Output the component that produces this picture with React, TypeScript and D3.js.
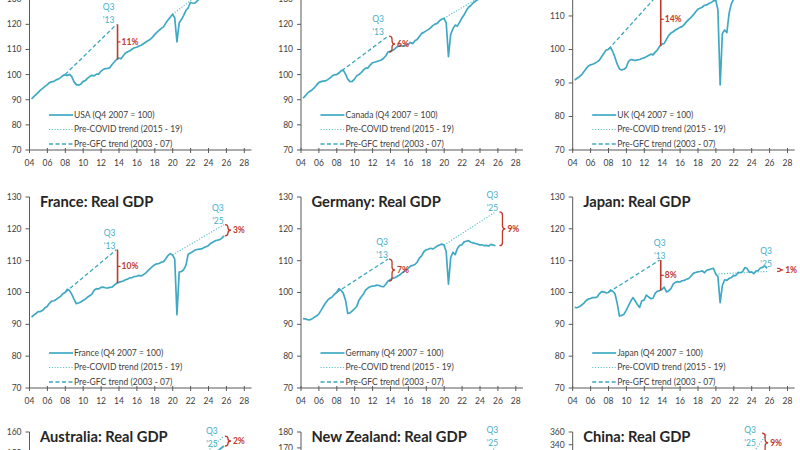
import React from 'react';
import * as d3 from 'd3';

// Quarterly real GDP, Q4 2007 = 100, from 2004Q1 to 2025Q3 (87 quarters)
const START_YEAR = 2004;

const usa = [
  90.3, 91.2, 92.0, 92.9, 93.8, 94.5, 95.3, 95.9, 96.8, 97.1, 97.3, 97.9, 98.2, 98.8, 99.6, 100.0,
  99.6, 100.1, 99.2, 97.1, 96.0, 95.8, 96.2, 97.2, 97.6, 98.5, 99.2, 99.7, 99.5, 100.2, 100.2, 101.3,
  102.0, 102.4, 102.5, 102.7, 104.0, 105.0, 106.0, 106.6, 106.3, 107.5, 108.6, 109.1, 109.5, 110.2, 110.7, 110.9,
  111.4, 111.7, 112.3, 112.9, 113.5, 114.0, 114.8, 115.9, 116.8, 117.6, 118.4, 119.0, 120.5, 121.7, 122.8, 124.0,
  122.6, 113.0, 120.6, 121.9, 123.6, 125.5, 126.5, 128.7, 128.5, 128.4, 129.2, 130.3, 131.0, 131.8, 133.3, 134.5,
  135.0, 136.0, 137.1, 137.9, 137.7, 138.9, 140.3,
];
const canada = [
  90.6, 91.5, 92.6, 93.3, 93.9, 94.7, 95.8, 96.8, 97.2, 97.4, 97.5, 98.0, 98.6, 99.4, 99.9, 100.0,
  100.6, 101.5, 101.8, 100.2, 98.2, 97.2, 97.3, 98.2, 99.5, 100.0, 100.8, 101.8, 102.6, 102.6, 103.8, 104.7,
  104.9, 105.2, 105.5, 105.8, 106.5, 107.5, 109.0, 109.3, 109.6, 110.2, 111.0, 111.6, 111.4, 111.3, 111.7, 112.0,
  112.8, 112.3, 113.5, 114.0, 115.2, 116.4, 116.8, 117.4, 117.9, 118.6, 119.5, 120.1, 120.4, 121.4, 122.0, 122.4,
  120.6, 107.1, 116.0, 118.2, 119.7, 119.3, 120.9, 122.5, 123.8, 125.5, 126.8, 127.5, 128.5, 129.2, 129.8, 130.2,
  130.8, 131.5, 132.2, 133.0, 133.5, 133.2, 134.0,
];
const uk = [
  90.9, 91.4, 91.8, 92.4, 93.3, 94.2, 95.0, 95.4, 95.6, 95.9, 96.3, 96.8, 97.8, 98.8, 99.8, 100.0,
  100.6, 99.4, 97.6, 95.6, 94.2, 93.9, 94.1, 94.6, 96.4, 97.0, 96.9, 96.7, 96.9, 97.0, 97.3, 97.5,
  97.8, 98.2, 98.6, 98.4, 99.2, 99.9, 101.0, 101.6, 101.8, 103.0, 104.2, 104.9, 105.3, 105.8, 106.2, 106.6,
  106.8, 107.5, 108.3, 109.0, 109.6, 110.3, 111.2, 112.0, 112.3, 112.6, 113.2, 113.3, 113.7, 114.0, 114.5, 114.8,
  111.8, 89.4, 104.8, 105.8, 105.0, 110.8, 113.6, 115.0, 115.6, 115.8, 115.9, 116.0, 116.2, 116.3, 116.3, 116.0,
  116.8, 117.4, 117.5, 117.6, 118.5, 118.8, 118.9,
];
const france = [
  92.3, 92.9, 93.4, 94.0, 94.0, 94.4, 95.2, 95.6, 96.6, 97.3, 97.4, 97.8, 98.3, 98.8, 99.6, 100.0,
  101.0, 100.6, 99.4, 97.9, 96.5, 96.7, 97.0, 97.5, 97.9, 98.5, 99.0, 99.5, 100.7, 101.2, 101.1, 101.6,
  101.7, 101.5, 101.4, 101.6, 101.7, 102.3, 102.9, 103.2, 103.4, 103.6, 104.0, 104.2, 104.6, 104.7, 105.0, 105.1,
  105.4, 105.2, 105.6, 106.1, 106.8, 107.5, 108.1, 108.7, 109.0, 109.1, 109.5, 109.7, 110.6, 111.6, 112.2, 111.8,
  110.5, 93.0, 106.4, 106.6, 107.2, 108.5, 112.0, 112.4, 112.8, 113.3, 113.5, 113.6, 113.7, 114.1, 114.4, 114.7,
  115.4, 115.8, 116.2, 116.4, 116.6, 117.0, 117.8,
];
const germany = [
  91.8, 91.7, 91.5, 91.4, 91.7, 92.2, 92.6, 93.2, 94.3, 95.5, 96.6, 97.6, 98.2, 98.6, 99.4, 100.0,
  101.2, 100.7, 99.8, 97.6, 93.4, 93.6, 94.2, 94.9, 95.6, 97.6, 98.6, 99.5, 100.8, 101.4, 101.8, 102.0,
  102.1, 102.3, 102.2, 101.9, 101.8, 102.6, 103.6, 104.0, 104.5, 104.6, 105.0, 105.4, 106.0, 106.5, 107.0, 107.6,
  108.3, 108.5, 108.8, 109.5, 110.8, 111.5, 112.8, 113.4, 113.6, 113.9, 113.7, 114.1, 114.6, 114.9, 115.2, 114.9,
  112.8, 102.6, 111.0, 112.6, 111.9, 113.8, 114.8, 115.0, 115.9, 116.1, 116.3, 115.8, 115.6, 115.4, 115.2, 114.9,
  115.0, 114.7, 114.8, 114.6, 115.1, 114.9, 114.7,
];
const japan = [
  95.3, 95.2, 95.5, 96.0, 96.6, 97.4, 97.9, 98.1, 98.4, 98.4, 98.6, 99.6, 100.3, 100.2, 99.9, 100.0,
  100.8, 100.4, 99.6, 96.6, 92.6, 92.8, 93.2, 94.4, 95.8, 97.2, 98.4, 97.4, 96.2, 95.3, 97.4, 97.6,
  99.2, 98.6, 98.1, 98.2, 99.8, 100.4, 100.6, 101.0, 101.7, 100.2, 100.5, 101.2, 102.6, 103.2, 103.4, 103.3,
  103.7, 103.8, 104.2, 104.4, 105.2, 106.0, 106.3, 106.5, 106.6, 106.8, 106.2, 107.0, 107.2, 107.4, 107.6, 105.8,
  105.0, 96.8, 102.2, 104.0, 103.8, 104.4, 104.7, 105.4, 105.3, 106.3, 106.2, 106.5, 107.8, 107.6, 106.3, 106.5,
  105.9, 106.7, 106.9, 107.7, 107.9, 108.3, 107.6,
];
const australia = [
  89.5, 90.2, 91.0, 91.9, 92.6, 93.4, 94.1, 94.8, 95.5, 96.0, 96.7, 97.5, 98.2, 98.9, 99.5, 100.0,
  100.6, 101.2, 101.6, 101.0, 101.7, 102.5, 102.9, 103.6, 104.0, 104.9, 105.6, 106.3, 105.9, 107.2, 108.6, 109.9,
  111.0, 112.1, 112.8, 113.6, 114.3, 114.9, 115.6, 116.4, 117.3, 118.1, 118.6, 119.3, 120.1, 120.5, 121.6, 122.4,
  123.3, 124.1, 124.0, 125.4, 125.9, 126.9, 127.9, 128.5, 129.8, 130.9, 131.3, 131.7, 132.4, 133.2, 134.0, 135.8,
  135.4, 126.4, 130.8, 135.5, 138.0, 139.2, 136.6, 141.5, 142.7, 143.8, 144.7, 145.6, 146.4, 147.2, 147.6, 148.0,
  148.3, 148.6, 149.1, 150.0, 151.8, 152.6, 153.4,
];
const newZealand = [
  91.5, 92.4, 92.8, 93.6, 94.3, 94.8, 95.3, 95.7, 96.0, 96.4, 97.3, 98.1, 98.6, 99.4, 99.8, 100.0,
  99.4, 98.9, 98.6, 98.0, 98.1, 98.4, 99.0, 99.8, 100.3, 100.6, 100.4, 100.8, 101.5, 102.0, 102.9, 103.3,
  104.1, 104.3, 104.9, 105.8, 106.3, 107.3, 108.0, 108.9, 109.8, 110.7, 111.6, 112.5, 113.4, 114.4, 115.3, 116.4,
  117.6, 118.8, 119.9, 121.1, 122.0, 123.1, 124.3, 125.4, 126.3, 127.5, 128.4, 129.4, 130.3, 131.1, 132.0, 133.0,
  131.0, 116.8, 134.5, 133.7, 136.0, 139.0, 133.8, 138.6, 138.6, 140.2, 142.8, 142.3, 142.5, 142.5, 143.1, 142.5,
  142.6, 141.9, 140.3, 141.0, 141.9, 140.6, 142.0,
];
const china = [
  67.5, 69.2, 71.0, 72.9, 74.8, 76.9, 79.0, 81.2, 83.5, 85.9, 88.3, 90.8, 93.2, 95.6, 97.8, 100.0,
  102.2, 104.4, 106.6, 108.1, 110.0, 113.2, 116.6, 119.3, 122.2, 125.0, 127.8, 131.0, 133.8, 136.6, 139.5, 142.8,
  145.0, 147.4, 150.0, 153.0, 155.6, 158.4, 161.8, 164.6, 167.4, 170.5, 173.4, 176.6, 179.2, 182.3, 185.5, 188.9,
  191.6, 195.1, 198.3, 201.8, 204.8, 208.4, 212.0, 215.6, 218.8, 222.4, 225.9, 229.6, 232.3, 235.6, 239.0, 243.2,
  218.0, 244.0, 251.0, 258.5, 259.0, 261.5, 263.5, 267.0, 270.0, 267.5, 275.0, 277.5, 283.0, 285.0, 289.0, 293.0,
  297.0, 300.0, 304.0, 309.0, 314.0, 320.0, 328.0,
];

const countries = ['USA', 'Canada', 'UK', 'France', 'Germany', 'Japan', 'Australia', 'New Zealand', 'China'];
const seriesList = [usa, canada, uk, france, germany, japan, australia, newZealand, china];
// trend end values (Q3 2013 for pre-GFC, Q3 2025 for pre-COVID)
const gfcTrendEnd = [120.0, 115.3, 117.0, 113.5, 110.5, 110.2, 122.0, 118.0, 185.0];
const gfcGapLabels = ['11%', '6%', '14%', '10%', '7%', '8%', '5%', '8%', '11%'];
const covidTrendEnd = [139.5, 134.5, 124.6, 121.3, 125.3, 106.6, 158.1, 170.5, 358.0];
const covidGapLabels = ['1%', '1%', '5%', '3%', '9%', '1%', '2%', '17%', '9%'];
const yDomains = [[70, 146], [70, 146], [70, 127], [70, 130], [70, 130], [70, 130], [70, 160], [60, 180], [60, 360]];
const yTickSteps = [10, 10, 10, 10, 10, 10, 10, 10, 20];
const xTickYears = [2004, 2006, 2008, 2010, 2012, 2014, 2016, 2018, 2020, 2022, 2024, 2026, 2028];

// styles / layout
const gfcStyle = ['line', 'brace', 'line', 'line', 'brace', 'line', 'line', 'line', 'line'];
const covidStyle = ['brace', 'brace', 'brace', 'brace', 'brace', 'brace', 'brace', 'none', 'brace'];
const gfcLabelDx = [-9, -11, -8, -8, -7, -1, -8, -8, -8];
const covidBracketDx = [1, 1, 1, 1, 4, 10, 1, 1, -5];
const covidLabelDx = [-7, -7, -7, -7, -7, -11, -13, -4, -12];
const covidLabelDy = [0, 0, 0, 0, 0, 0, 12, 0, 13.5];

const COL_X = [29.5, 301, 572.7];
const ROWS = [{ axisY: 150, top: -41 }, { axisY: 388, top: 197 }, { axisY: 623, top: 432 }];
const PX_PER_YEAR = 8.95;
const H = 450;

const FONT = "Lato, 'Open Sans', sans-serif";
const TEAL = '#3fa9c4';
const LABEL_TEAL = '#45b0c8';
const DOT = '#62c3c6';
const DASH = '#3aa7bf';
const RED = '#c0392b';
const AXIS = '#595959';
const TXT = '#404040';

const qT = (i: number) => START_YEAR + (i + 0.5) / 4 + 0.1;
const GFC_START = 15; // Q4 2007
const GFC_END = 38; // Q3 2013
const COVID_START = 63; // Q4 2019
const COVID_END = 86; // Q3 2025

const onCanvas = (y: number) => y > -5 && y < H + 5;

function bracePath(x0: number, y0: number, y1: number) {
  const w = 3;
  const top = Math.min(y0, y1);
  const bot = Math.max(y0, y1);
  const ym = (top + bot) / 2;
  const r = Math.min(w, (bot - top) / 4);
  return `M${x0},${top} Q${x0 + w},${top} ${x0 + w},${top + r} L${x0 + w},${ym - r} Q${x0 + w},${ym} ${x0 + 2 * w},${ym} Q${x0 + w},${ym} ${x0 + w},${ym + r} L${x0 + w},${bot - r} Q${x0 + w},${bot} ${x0},${bot}`;
}

function Gap({ x, yTrend, yActual, style, label, labelDx, labelDy = 0, year }: any) {
  const ym = (yTrend + yActual) / 2;
  const yTop = Math.min(yTrend, yActual) + labelDy;
  const isBrace = style === 'brace';
  return (
    <g>
      {style === 'none' ? null : isBrace ? (
        <path d={bracePath(x, yTrend, yActual)} fill="none" stroke={RED} strokeWidth={1.3} />
      ) : (
        <g stroke={RED} strokeWidth={1.6}>
          <line x1={x} x2={x} y1={yTrend} y2={yActual} />
          <line x1={x} x2={x + 3} y1={ym} y2={ym} strokeWidth={1.2} />
        </g>
      )}
      {style !== 'none' && onCanvas(ym) && (
        <text x={x + (isBrace ? 8 : 4)} y={ym} dy="0.35em" fontSize={8.5} fill={RED} fontWeight={700} fontFamily={FONT}>
          {label}
        </text>
      )}
      {onCanvas(yTop - 17) && (
        <text x={x + labelDx} y={yTop - 17} dy="0.35em" fontSize={8.5} fill={LABEL_TEAL} textAnchor="middle" fontFamily={FONT}>Q3</text>
      )}
      {onCanvas(yTop - 4) && (
        <text x={x + labelDx} y={yTop - 4} dy="0.35em" fontSize={8.5} fill={LABEL_TEAL} textAnchor="middle" fontFamily={FONT}>{`'${year}`}</text>
      )}
    </g>
  );
}

function Panel({ idx }: { idx: number }) {
  const col = idx % 3;
  const row = Math.floor(idx / 3);
  const ax = COL_X[col];
  const { axisY, top } = ROWS[row];
  const values = seriesList[idx];
  const name = countries[idx];
  const [y0, y1] = yDomains[idx];
  const x = d3.scaleLinear().domain([2004, 2028]).range([ax, ax + 24 * PX_PER_YEAR]);
  const y = d3.scaleLinear().domain([y0, y1]).range([axisY, top]);
  const yTicks = d3.range(y0, y1 + 0.001, yTickSteps[idx]);
  const line = d3.line<number>().x((_, i) => x(qT(i))).y((d) => y(d));
  const seg = d3.line<[number, number]>().x((d) => x(d[0])).y((d) => y(d[1]));
  const gfcLine: [number, number][] = [[qT(GFC_START), values[GFC_START]], [qT(GFC_END), gfcTrendEnd[idx]]];
  const covLine: [number, number][] = [[qT(COVID_START), values[COVID_START]], [qT(COVID_END), covidTrendEnd[idx]]];
  const axisEnd = x(2028.8);
  const legendY = [axisY - 35, axisY - 20.5, axisY - 6];
  const legendLabels = [`${name} (Q4 2007 = 100)`, 'Pre-COVID trend (2015 - 19)', 'Pre-GFC trend (2003 - 07)'];
  const titleY = top + 5;

  return (
    <g>
      {/* axes */}
      <line x1={ax} x2={ax} y1={top} y2={axisY} stroke={AXIS} strokeWidth={1} />
      <line x1={ax} x2={axisEnd} y1={axisY} y2={axisY} stroke={AXIS} strokeWidth={1} />
      {yTicks.map((t) => (
        <g key={t}>
          <line x1={ax - 4} x2={ax} y1={y(t)} y2={y(t)} stroke={AXIS} />
          {onCanvas(y(t)) && (
            <text x={ax - 8} y={y(t)} dy="0.35em" textAnchor="end" fontSize={8.5} fill={TXT} fontFamily={FONT}>{t}</text>
          )}
        </g>
      ))}
      {xTickYears.map((yr) => (
        <g key={yr}>
          <line x1={x(yr)} x2={x(yr)} y1={axisY - 2} y2={axisY + 3} stroke={AXIS} />
          {onCanvas(axisY + 13) && (
            <text x={x(yr)} y={axisY + 13} dy="0.35em" textAnchor="middle" fontSize={8.5} fill={TXT} fontFamily={FONT}>
              {String(yr).slice(2)}
            </text>
          )}
        </g>
      ))}
      {/* title */}
      {onCanvas(titleY) && (
        <text x={ax + 10.5} y={titleY} dy="0.35em" fontSize={14.7} fontWeight={700} fill="#262626" fontFamily={FONT}>
          {`${name}: Real GDP`}
        </text>
      )}
      {/* trends */}
      <path d={seg(covLine) || ''} fill="none" stroke={DOT} strokeWidth={1.2} strokeDasharray="1.2,1.6" />
      <path d={seg(gfcLine) || ''} fill="none" stroke={DASH} strokeWidth={1.3} strokeDasharray="4,2.5" />
      {/* series */}
      <path d={line(values) || ''} fill="none" stroke={TEAL} strokeWidth={1.7} strokeLinejoin="round" />
      {/* gap annotations */}
      <Gap
        x={x(qT(GFC_END)) + 1}
        yTrend={y(gfcTrendEnd[idx])}
        yActual={y(values[GFC_END])}
        style={gfcStyle[idx]}
        label={gfcGapLabels[idx]}
        labelDx={gfcLabelDx[idx]}
        year="13"
      />
      <Gap
        x={x(qT(COVID_END)) + covidBracketDx[idx]}
        yTrend={y(covidTrendEnd[idx])}
        yActual={y(values[COVID_END])}
        style={covidStyle[idx]}
        label={covidGapLabels[idx]}
        labelDx={covidLabelDx[idx]}
        labelDy={covidLabelDy[idx]}
        year="25"
      />
      {/* legend */}
      <line x1={ax + 19.5} x2={ax + 43.5} y1={legendY[0]} y2={legendY[0]} stroke={TEAL} strokeWidth={1.7} />
      <line x1={ax + 19.5} x2={ax + 43.5} y1={legendY[1]} y2={legendY[1]} stroke={DOT} strokeWidth={1.2} strokeDasharray="1.2,1.6" />
      <line x1={ax + 19.5} x2={ax + 43.5} y1={legendY[2]} y2={legendY[2]} stroke={DASH} strokeWidth={1.3} strokeDasharray="4,2.5" />
      {legendLabels.map((l, i) =>
        onCanvas(legendY[i]) ? (
          <text key={l} x={ax + 44.5} y={legendY[i]} dy="0.35em" fontSize={8.5} fill={TXT} fontFamily={FONT}>{l}</text>
        ) : null
      )}
    </g>
  );
}

export default function App() {
  return (
    <svg
      width={800}
      height={450}
      viewBox="0 0 800 450"
      style={{ position: 'fixed', left: 0, top: 0, background: '#fff', display: 'block' }}
    >
      <rect width={800} height={450} fill="#fff" />
      {countries.map((_, i) => (
        <Panel key={i} idx={i} />
      ))}
    </svg>
  );
}
